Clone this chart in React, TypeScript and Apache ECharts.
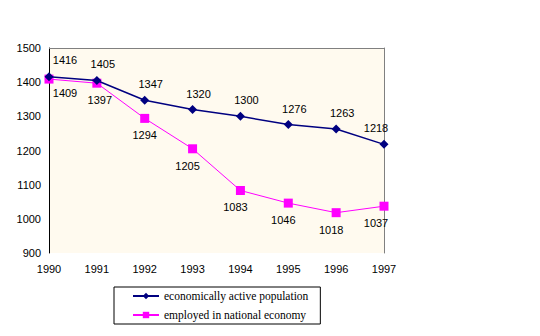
import React, { useEffect, useRef } from "react";
import * as echarts from "echarts";

const years = ["1990", "1991", "1992", "1993", "1994", "1995", "1996", "1997"];
const activePopulation = [1416, 1405, 1347, 1320, 1300, 1276, 1263, 1218];
const employed = [1409, 1397, 1294, 1205, 1083, 1046, 1018, 1037];
const seriesNames = ["economically active population", "employed in national economy"];

export default function App() {
  const ref = useRef<HTMLDivElement>(null);
  useEffect(() => {
    if (!ref.current) return;
    const chart = echarts.init(ref.current, undefined, { renderer: "svg" });
    const font = { fontFamily: "Liberation Sans, Arial, sans-serif", fontSize: 11, color: "#000" };
    const activeData = activePopulation.map((v, i) => {
      const item: any = { value: v };
      if (i === 0) item.label = { offset: [16, -1] };
      if (i === years.length - 1) item.label = { offset: [-8, 0] };
      return item;
    });
    const empData = employed.map((v, i) => {
      const item: any = { value: v };
      if (i === 0) item.label = { offset: [16, -3] };
      if (i === 1) item.label = { offset: [3, 0] };
      if (i === 2) item.label = { offset: [0, 0] };
      if (i === years.length - 1) item.label = { offset: [-8, 0] };
      return item;
    });
    chart.setOption({
      animation: false,
      grid: {
        left: 49,
        right: 156,
        top: 48,
        bottom: 83,
        show: true,
        borderWidth: 0,
        backgroundColor: "#FFFAEF",
      },
      legend: {
        orient: "vertical",
        left: 114,
        top: 287,
        itemWidth: 26,
        itemHeight: 8,
        itemGap: 7,
        padding: [3, 12, 3, 18],
        borderColor: "#000",
        borderWidth: 1,
        backgroundColor: "#fff",
        textStyle: { fontFamily: "Liberation Serif, Times New Roman, serif", fontSize: 11.5, color: "#000" },
        data: seriesNames,
      },
      xAxis: [
        {
          type: "category",
          data: years,
          boundaryGap: false,
          axisLine: { show: false },
          axisTick: { show: false },
          axisLabel: { ...font, margin: 10 },
        },
        {
          type: "category",
          position: "top",
          data: years,
          boundaryGap: false,
          axisLine: { show: true, lineStyle: { color: "#808080", width: 1 } },
          axisTick: { show: false },
          axisLabel: { show: false },
        },
      ],
      yAxis: [
        {
          type: "value",
          min: 900,
          max: 1500,
          interval: 100,
          axisLine: { show: true, lineStyle: { color: "#000", width: 1 } },
          axisTick: { show: true, length: 4, lineStyle: { color: "#fff" } },
          splitLine: { show: false },
          axisLabel: { ...font, margin: 8, formatter: (v: number) => String(v) },
        },
        {
          type: "value",
          min: 900,
          max: 1500,
          interval: 100,
          position: "right",
          axisLine: { show: true, lineStyle: { color: "#808080", width: 1 } },
          axisTick: { show: false },
          splitLine: { show: false },
          axisLabel: { show: false },
        },
      ],
      series: [
        {
          name: seriesNames[0],
          type: "line",
          data: activeData,
          color: "#000080",
          symbol: "diamond",
          symbolSize: 9,
          lineStyle: { width: 1.5, color: "#000080" },
          itemStyle: { color: "#000080" },
          label: { show: true, position: "top", distance: 6, offset: [6, 0], ...font },
          z: 3,
        },
        {
          name: seriesNames[1],
          type: "line",
          data: empData,
          color: "#FF00FF",
          symbol: "rect",
          symbolSize: 9,
          lineStyle: { width: 1, color: "#FF00FF" },
          itemStyle: { color: "#FF00FF" },
          label: { show: true, position: "bottom", distance: 7, offset: [-5, 0], ...font },
          z: 2,
        },
      ],
    });
    return () => chart.dispose();
  }, []);
  return <div ref={ref} style={{ width: 540, height: 336, position: "absolute", left: 0, top: 0 }} />;
}
